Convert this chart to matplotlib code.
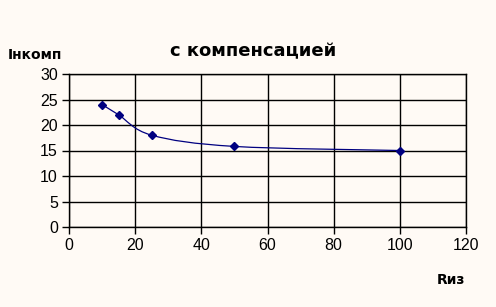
import matplotlib.pyplot as plt
from matplotlib.path import Path
from matplotlib.patches import PathPatch

r_iz = [10, 15, 25, 50, 100]
i_komp = [24, 22, 18, 15.8, 15]

title = 'с компенсацией'
x_label = 'Rиз'
y_label = 'Iнкомп'


def smooth_path(xs, ys, t=1 / 6):
    # bezier control points like Excel's smoothed line
    verts = [(xs[0], ys[0])]
    codes = [Path.MOVETO]
    n = len(xs)
    for i in range(n - 1):
        x0, y0 = (xs[i - 1], ys[i - 1]) if i > 0 else (xs[i], ys[i])
        x1, y1 = xs[i], ys[i]
        x2, y2 = xs[i + 1], ys[i + 1]
        x3, y3 = (xs[i + 2], ys[i + 2]) if i + 2 < n else (x2, y2)
        verts += [(x1 + (x2 - x0) * t, y1 + (y2 - y0) * t),
                  (x2 - (x3 - x1) * t, y2 - (y3 - y1) * t),
                  (x2, y2)]
        codes += [Path.CURVE4] * 3
    return Path(verts, codes)


bg = '#fffaf5'
fig = plt.figure(figsize=(4.96, 3.07), dpi=100, facecolor=bg)
ax = fig.add_axes([69 / 496, 1 - 227 / 307, 397 / 496, 153 / 307])
ax.set_facecolor(bg)

ax.add_patch(PathPatch(smooth_path(r_iz, i_komp), fill=False,
                       edgecolor='#000080', lw=0.9))
ax.plot(r_iz, i_komp, ls='none', marker='D', ms=4.2, color='#000080')

ax.set_xlim(0, 120)
ax.set_ylim(0, 30)
ax.set_xticks(range(0, 121, 20))
ax.set_yticks(range(0, 31, 5))
ax.grid(True, color='black', lw=1)
ax.set_axisbelow(True)
for s in ax.spines.values():
    s.set_color('black')
    s.set_linewidth(1)
ax.tick_params(direction='out', length=5, width=1, labelsize=11.5,
               colors='black', pad=3)
for lab in ax.get_xticklabels() + ax.get_yticklabels():
    lab.set_family('Liberation Sans')

fig.text(253 / 496, 1 - 51 / 307, title, ha='center', va='center',
         fontsize=13, fontweight='bold', family='DejaVu Sans')
fig.text(8 / 496, 1 - 55 / 307, y_label, ha='left', va='center',
         fontsize=10, fontweight='bold', family='DejaVu Sans')
fig.text(451 / 496, 1 - 280 / 307, x_label, ha='center', va='center',
         fontsize=10, fontweight='bold', family='DejaVu Sans')

fig.savefig('out.png', dpi=100, facecolor=bg)
